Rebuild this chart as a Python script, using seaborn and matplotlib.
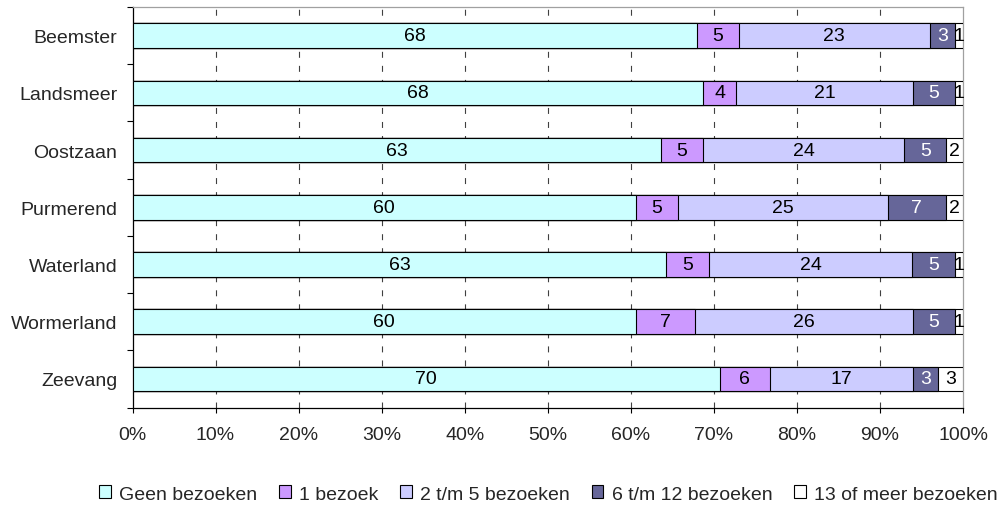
import numpy as np
import pandas as pd
import matplotlib
matplotlib.use("Agg")
import matplotlib.pyplot as plt
import seaborn as sns
from matplotlib.patches import Patch

# ---------------- data ----------------
municipalities = ["Beemster", "Landsmeer", "Oostzaan", "Purmerend",
                  "Waterland", "Wormerland", "Zeevang"]
categories = ["Geen bezoeken", "1 bezoek", "2 t/m 5 bezoeken",
              "6 t/m 12 bezoeken", "13 of meer bezoeken"]
geen_bezoeken = [68, 68, 63, 60, 63, 60, 70]
een_bezoek = [5, 4, 5, 5, 5, 7, 6]
twee_tm_vijf = [23, 21, 24, 25, 24, 26, 17]
zes_tm_twaalf = [3, 5, 5, 7, 5, 5, 3]
dertien_of_meer = [1, 1, 2, 2, 1, 1, 3]
x_ticks = [0, 10, 20, 30, 40, 50, 60, 70, 80, 90, 100]
x_tick_labels = [f"{t}%" for t in x_ticks]

colors = ["#CCFFFF", "#CC99FF", "#CCCCFF", "#666699", "#FFFFFF"]
label_colors = ["black", "black", "black", "white", "black"]

# ---------------- style ----------------
sns.set_theme(style="white")
plt.rcParams["font.family"] = ["Liberation Sans", "DejaVu Sans"]
plt.rcParams["lines.scale_dashes"] = False
FS = 14

df = pd.DataFrame({
    categories[0]: geen_bezoeken,
    categories[1]: een_bezoek,
    categories[2]: twee_tm_vijf,
    categories[3]: zes_tm_twaalf,
    categories[4]: dertien_of_meer,
}, index=municipalities)
shares = df.div(df.sum(axis=1), axis=0) * 100
cum = shares.cumsum(axis=1)

fig = plt.figure(figsize=(10.06, 5.06), dpi=100)
W, H = 1006, 506
left, right, top, bottom = 132.5, 963, 8, 408.5
ax = fig.add_axes([left / W, 1 - bottom / H, (right - left) / W, (bottom - top) / H])

# stacked bars: draw cumulative totals from the largest down
for k in reversed(range(len(categories))):
    sns.barplot(x=cum.iloc[:, k].values, y=municipalities, orient="h",
                color=colors[k], saturation=1, edgecolor="black",
                linewidth=0.8, width=0.43, ax=ax, zorder=3)

# segment labels
for i, m in enumerate(municipalities):
    for k, c in enumerate(categories):
        centre = cum.iloc[i, k] - shares.iloc[i, k] / 2
        ax.text(centre, i, str(df.iloc[i, k]), ha="center", va="center",
                fontsize=FS, color=label_colors[k], zorder=5)

# dashed vertical gridlines
for t in x_ticks[1:-1]:
    ax.axvline(t, color="#404040", linewidth=0.8, linestyle=(0, (4.3, 5.8)),
               zorder=1)

ax.set_xlim(0, 100)
ax.set_ylim(len(municipalities) - 0.5, -0.5)
ax.set_xticks(x_ticks)
ax.set_xticklabels(x_tick_labels, fontsize=FS)
ax.set_yticks(range(len(municipalities)))
ax.set_yticklabels(municipalities, fontsize=FS)
ax.set_yticks(np.arange(-0.5, len(municipalities), 1.0), minor=True)
ax.set_xlabel("")
ax.set_ylabel("")

ax.tick_params(axis="x", which="major", direction="out", length=3.6,
               width=0.8, color="black", pad=10, bottom=True)
ax.tick_params(axis="y", which="major", length=0, pad=11)
ax.tick_params(axis="y", which="minor", direction="out", length=4.3,
               width=0.8, color="black", left=True)

for s in ["left", "bottom"]:
    ax.spines[s].set_color("black")
    ax.spines[s].set_linewidth(0.9)
for s in ["top", "right"]:
    ax.spines[s].set_color("#A0A0A0")
    ax.spines[s].set_linewidth(0.9)
    ax.spines[s].set_visible(True)

handles = [Patch(facecolor=colors[k], edgecolor="black", linewidth=0.8)
           for k in range(len(categories))]
fig.legend(handles, categories, loc="center", bbox_to_anchor=(548.5 / W, 1 - 495 / H),
           ncol=5, frameon=False, fontsize=FS, handlelength=0.6,
           handleheight=0.6, handletextpad=0.45, columnspacing=1.1,
           borderpad=0, borderaxespad=0)

fig.savefig("out.png", dpi=100)
